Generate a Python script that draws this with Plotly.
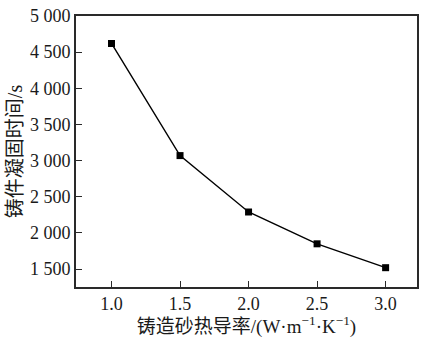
import plotly.graph_objects as go

# Sand thermal conductivity vs. casting solidification time
conductivity = [1.0, 1.5, 2.0, 2.5, 3.0]
solidify_time = [4620, 3070, 2290, 1850, 1520]

x_ticks = [1.0, 1.5, 2.0, 2.5, 3.0]
x_ticktext = ["1.0", "1.5", "2.0", "2.5", "3.0"]
y_ticks = [1500, 2000, 2500, 3000, 3500, 4000, 4500, 5000]
y_ticktext = ["1 500", "2 000", "2 500", "3 000", "3 500", "4 000", "4 500", "5 000"]

FONT = "Liberation Serif, Times New Roman, Noto Sans CJK SC, serif"
AXIS_COLOR = "#2a2a2a"

fig = go.Figure(
    go.Scatter(
        x=conductivity,
        y=solidify_time,
        mode="lines+markers",
        line=dict(color="black", width=1.4),
        marker=dict(symbol="square", size=7, color="black"),
        showlegend=False,
    )
)

axis_common = dict(
    showgrid=False,
    zeroline=False,
    showline=True,
    linecolor=AXIS_COLOR,
    linewidth=1.6,
    mirror=True,
    ticks="inside",
    ticklen=6,
    tickwidth=1.3,
    tickcolor=AXIS_COLOR,
    tickfont=dict(family=FONT, size=18, color="#1a1a1a"),
)

fig.update_xaxes(
    range=[0.741, 3.229],
    tickvals=x_ticks,
    ticktext=x_ticktext,
    title=dict(
        text="铸造砂热导率/(W·m<sup>−1</sup>·K<sup>−1</sup>)",
        font=dict(family=FONT, size=19, color="#1a1a1a"),
        standoff=4,
    ),
    **axis_common,
)
fig.update_yaxes(
    range=[1253, 5000],
    tickvals=y_ticks,
    ticktext=y_ticktext,
    title=dict(
        text="铸件凝固时间/s",
        font=dict(family=FONT, size=20, color="#1a1a1a"),
        standoff=2,
    ),
    **axis_common,
)

fig.update_layout(
    width=425,
    height=338,
    margin=dict(l=76, r=6, t=14, b=50),
    paper_bgcolor="white",
    plot_bgcolor="white",
)

fig.write_html("out.html")
